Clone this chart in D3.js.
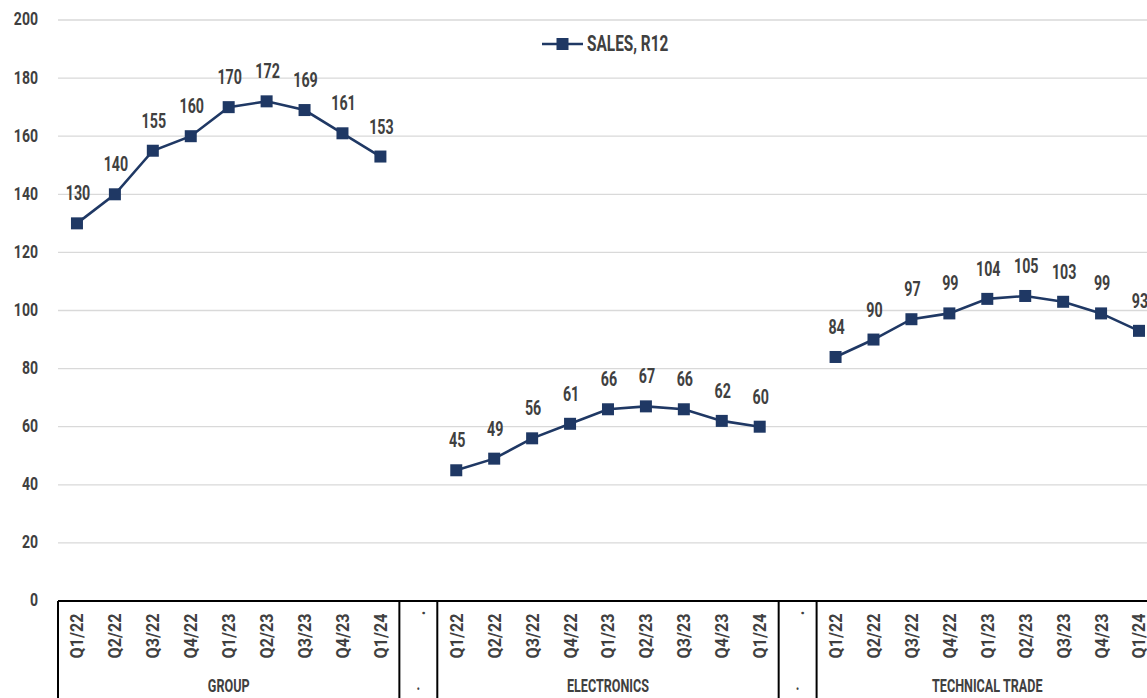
<!DOCTYPE html>
<html>
<head>
<meta charset="utf-8">
<script src="https://cdn.jsdelivr.net/npm/d3@7"></script>
<style>
  html, body { margin: 0; padding: 0; background: #ffffff; }
  svg { display: block; }
  text { font-family: Roboto, "Liberation Sans", sans-serif; font-weight: bold; }
</style>
</head>
<body>
<svg id="chart" width="1147" height="698"></svg>
<script>
// Segments on the category axis, each followed by a "." spacer category
const segments = ["GROUP", "ELECTRONICS", "TECHNICAL TRADE"];
const quarters = ["Q1/22", "Q2/22", "Q3/22", "Q4/22", "Q1/23", "Q2/23", "Q3/23", "Q4/23", "Q1/24"];

// Sales, rolling 12 months, per segment
const groupSales = [130, 140, 155, 160, 170, 172, 169, 161, 153];
const electronicsSales = [45, 49, 56, 61, 66, 67, 66, 62, 60];
const technicalSales = [84, 90, 97, 99, 104, 105, 103, 99, 93];

const yTicks = [0, 20, 40, 60, 80, 100, 120, 140, 160, 180, 200];
const seriesName = "SALES, R12";

const seriesBySegment = [groupSales, electronicsSales, technicalSales];

// Build the flat category list: quarters per segment, spacer between segments
const categories = [];
segments.forEach((seg, si) => {
  quarters.forEach((q, qi) => {
    categories.push({ key: seg + "|" + q, label: q, segment: seg, value: seriesBySegment[si][qi] });
  });
  if (si < segments.length - 1) {
    categories.push({ key: "spacer" + si, label: ".", segment: ".", value: null });
  }
});

const svg = d3.select("#chart");
const W = 1147, H = 698;
const left = 58, step = 37.93;
const plotTop = 20, plotBottom = 601;

const x = d3.scaleBand()
  .domain(categories.map(d => d.key))
  .range([left, left + step * categories.length])
  .paddingInner(0).paddingOuter(0);

const y = d3.scaleLinear().domain([0, 200]).range([plotBottom, plotTop]);

const textColor = "#404040";
const lineColor = "#1f3864";

// Condensed text: horizontally squeezed glyphs placed at (px, py)
function label(sel, opts) {
  return sel
    .attr("transform", d => `translate(${opts.x(d)},${opts.y(d)})${opts.rotate ? " rotate(-90)" : ""} scale(${opts.sx},1)`)
    .attr("text-anchor", opts.anchor || "middle")
    .attr("dy", "0.36em")
    .attr("fill", textColor)
    .attr("font-size", opts.size)
    .text(opts.text);
}

// Horizontal gridlines
svg.append("g")
  .selectAll("line")
  .data(yTicks.filter(t => t > 0))
  .join("line")
  .attr("x1", left).attr("x2", W)
  .attr("y1", d => y(d)).attr("y2", d => y(d))
  .attr("stroke", "#d9d9d9").attr("stroke-width", 1.3);

// Y axis labels
svg.append("g")
  .selectAll("text")
  .data(yTicks)
  .join("text")
  .call(label, { x: () => 38, y: d => y(d) - 1, sx: 0.78, size: 18, anchor: "end", text: d => d });

// Category axis frame
const axisG = svg.append("g");
axisG.append("line")
  .attr("x1", left).attr("x2", W)
  .attr("y1", plotBottom).attr("y2", plotBottom)
  .attr("stroke", "#000").attr("stroke-width", 2);

// Vertical boundaries around each segment block and spacer
const boundaries = [x.range()[0]];
categories.forEach(d => {
  if (d.label === ".") boundaries.push(x(d.key), x(d.key) + x.bandwidth());
});
axisG.selectAll("line.bound")
  .data(boundaries)
  .join("line")
  .attr("class", "bound")
  .attr("x1", d => d).attr("x2", d => d)
  .attr("y1", plotBottom).attr("y2", H)
  .attr("stroke", "#000").attr("stroke-width", 2);

// Quarter labels, rotated
axisG.selectAll("text.q")
  .data(categories)
  .join("text")
  .attr("class", "q")
  .call(label, {
    x: d => x(d.key) + x.bandwidth() / 2,
    y: d => d.label === "." ? 613 : 636,
    rotate: true, sx: 0.9, size: 18, text: d => d.label
  });

// Segment labels (spacers carry a "." too)
const segLabels = [];
let i0 = 0;
categories.forEach((d, i) => {
  const next = categories[i + 1];
  if (!next || next.segment !== d.segment) {
    const a = x(categories[i0].key), b = x(d.key) + x.bandwidth();
    segLabels.push({ label: d.segment, cx: (a + b) / 2 });
    i0 = i + 1;
  }
});
axisG.selectAll("text.seg")
  .data(segLabels)
  .join("text")
  .attr("class", "seg")
  .call(label, { x: d => d.cx, y: d => d.label === "." ? 684 : 686, sx: 0.7, size: 18, text: d => d.label });

// Series lines, one run per segment
const line = d3.line()
  .defined(d => d.value !== null)
  .x(d => x(d.key) + x.bandwidth() / 2)
  .y(d => y(d.value));

svg.append("path")
  .datum(categories)
  .attr("d", line)
  .attr("fill", "none")
  .attr("stroke", lineColor)
  .attr("stroke-width", 2.6);

const pts = categories.filter(d => d.value !== null);
const ms = 12;
svg.append("g")
  .selectAll("rect")
  .data(pts)
  .join("rect")
  .attr("x", d => x(d.key) + x.bandwidth() / 2 - ms / 2)
  .attr("y", d => y(d.value) - ms / 2)
  .attr("width", ms).attr("height", ms)
  .attr("fill", lineColor);

// Value labels above the markers
svg.append("g")
  .selectAll("text")
  .data(pts)
  .join("text")
  .call(label, {
    x: d => x(d.key) + x.bandwidth() / 2 + 1,
    y: d => y(d.value) - 30,
    sx: 0.73, size: 19.5, text: d => d.value
  });

// Legend
const lg = svg.append("g").attr("transform", "translate(542,44)");
lg.append("line").attr("x1", 0).attr("x2", 41).attr("y1", 0).attr("y2", 0)
  .attr("stroke", lineColor).attr("stroke-width", 2.6);
lg.append("rect").attr("x", 14.5).attr("y", -6).attr("width", 12).attr("height", 12).attr("fill", lineColor);
lg.selectAll("text").data([seriesName]).join("text")
  .call(label, { x: () => 45, y: () => -1, sx: 0.7, size: 22, anchor: "start", text: d => d });
</script>
</body>
</html>
